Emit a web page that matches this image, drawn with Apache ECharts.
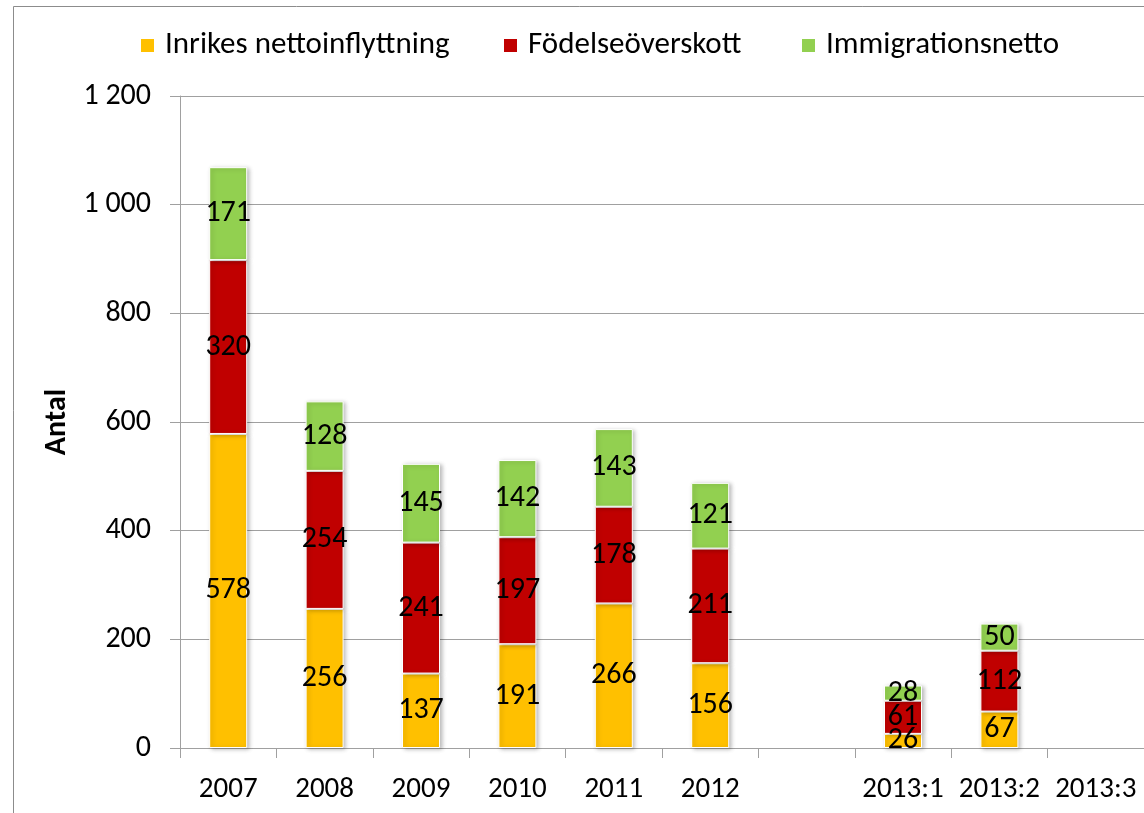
<!DOCTYPE html>
<html>
<head>
<meta charset="utf-8">
<script src="https://cdn.jsdelivr.net/npm/echarts@6/dist/echarts.min.js"></script>
<style>
    html, body { margin: 0; padding: 0; background: #fff; }
    #chart { width: 1144px; height: 813px; }
</style>
</head>
<body>
<div id="chart"></div>
<script>
// kategorier och värden
var categories = ['2007', '2008', '2009', '2010', '2011', '2012', '', '2013:1', '2013:2', '2013:3'];
var inrikes = [578, 256, 137, 191, 266, 156, '-', 26, 67, '-'];
var fodelse = [320, 254, 241, 197, 178, 211, '-', 61, 112, '-'];
var immigration = [171, 128, 145, 142, 143, 121, '-', 28, 50, '-'];
var seriesNames = ['Inrikes nettoinflyttning', 'Födelseöverskott', 'Immigrationsnetto'];
var colors = ['#FFC000', '#C00000', '#92D050'];

var font = 'Carlito, Lato, "Open Sans", sans-serif';
var legendLeft = [134, 497, 795];

function makeSeries(name, data, color) {
    return {
        name: name,
        type: 'bar',
        stack: 'total',
        barWidth: 38,
        data: data,
        itemStyle: {
            color: color,
            borderColor: '#fff',
            borderWidth: 1,
            shadowBlur: 4,
            shadowColor: 'rgba(0,0,0,0.25)',
            shadowOffsetX: 2,
            shadowOffsetY: 1
        },
        label: {
            show: true,
            position: 'inside',
            color: '#000',
            fontFamily: font,
            fontSize: 30
        }
    };
}

// en legend per serie, så att placeringen blir som i originalet
var legends = [];
seriesNames.forEach(function (name, i) {
    legends.push({
        top: 25,
        left: legendLeft[i],
        icon: 'rect',
        itemWidth: 15,
        itemHeight: 15,
        textStyle: { fontFamily: font, fontSize: 31, color: '#000', padding: [0, 0, 0, 5] },
        data: [name]
    });
});

var option = {
    animation: false,
    backgroundColor: '#fff',
    graphic: [{
        type: 'rect',
        shape: { x: 13.5, y: 6.5, width: 1300, height: 1000 },
        style: { fill: 'none', stroke: '#8c8c8c', lineWidth: 1 },
        silent: true
    }],
    legend: legends,
    grid: {
        left: 180,
        right: 0,
        top: 96,
        bottom: 65,
        containLabel: false
    },
    xAxis: {
        type: 'category',
        data: categories,
        axisLine: { lineStyle: { color: '#a0a0a0', width: 1 } },
        axisTick: { show: true, interval: 0, length: 10, lineStyle: { color: '#a0a0a0' } },
        axisLabel: { interval: 0, margin: 27, color: '#000', fontFamily: font, fontSize: 29 }
    },
    yAxis: {
        type: 'value',
        name: 'Antal',
        nameLocation: 'middle',
        nameGap: 108,
        nameRotate: 90,
        nameTextStyle: { fontFamily: font, fontSize: 30, fontWeight: 'bold', color: '#000' },
        min: 0,
        max: 1200,
        interval: 200,
        axisLine: { show: true, lineStyle: { color: '#a0a0a0', width: 1 } },
        axisTick: { show: true, length: 10, lineStyle: { color: '#a0a0a0' } },
        axisLabel: {
            margin: 29,
            color: '#000',
            fontFamily: font,
            fontSize: 30,
            formatter: function (v) {
                return String(v).replace(/\B(?=(\d{3})+(?!\d))/g, ' ');
            }
        },
        splitLine: { show: true, lineStyle: { color: '#a0a0a0', width: 1 } }
    },
    series: [
        makeSeries(seriesNames[0], inrikes, colors[0]),
        makeSeries(seriesNames[1], fodelse, colors[1]),
        makeSeries(seriesNames[2], immigration, colors[2])
    ]
};

var myChart = echarts.init(document.getElementById('chart'));
myChart.setOption(option);
</script>
</body>
</html>
